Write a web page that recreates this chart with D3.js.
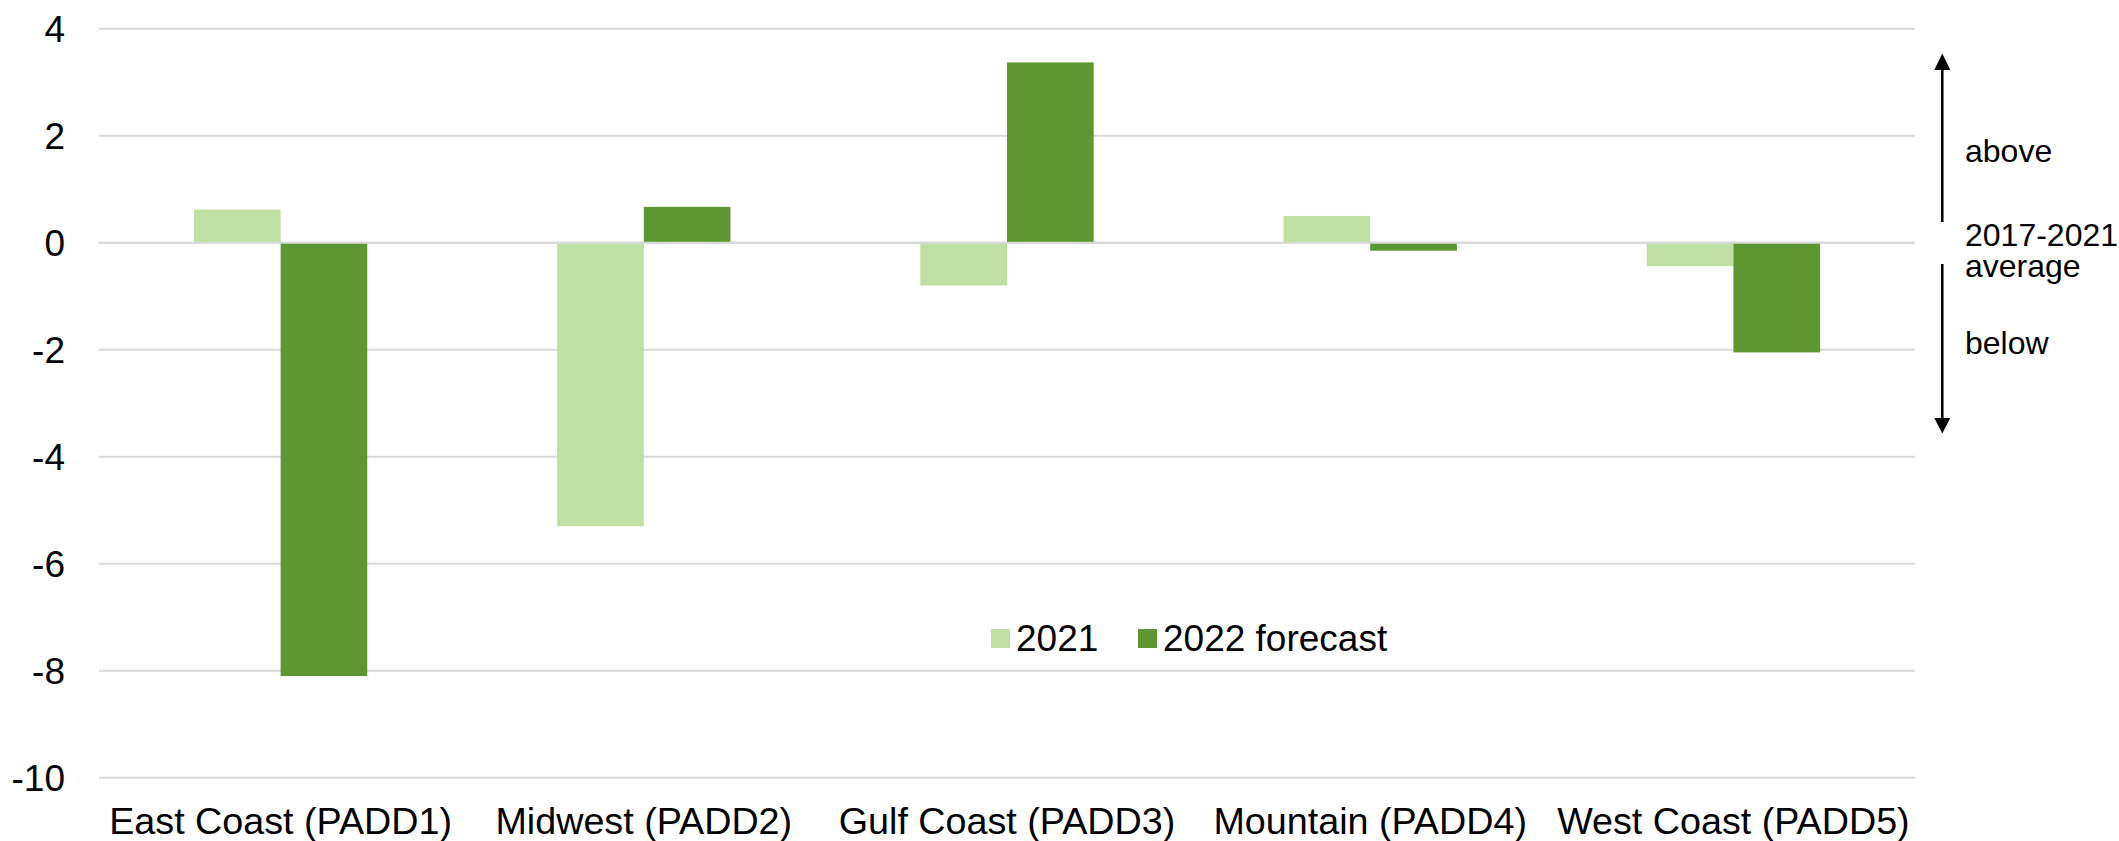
<!DOCTYPE html>
<html>
<head>
<meta charset="utf-8">
<script src="https://cdn.jsdelivr.net/npm/d3@7"></script>
<style>
  html, body { margin: 0; padding: 0; background: #fff; }
  svg { display: block; font-family: "Liberation Sans", Arial, sans-serif; }
</style>
</head>
<body>
<svg id="chart" width="2119" height="841"></svg>
<script>
// Regional differences from the 2017-2021 average
const categories = ["East Coast (PADD1)", "Midwest (PADD2)", "Gulf Coast (PADD3)", "Mountain (PADD4)", "West Coast (PADD5)"];
const seriesNames = ["2021", "2022 forecast"];
const values2021 = [0.62, -5.3, -0.8, 0.5, -0.44];
const values2022 = [-8.1, 0.67, 3.37, -0.15, -2.05];
const yTicks = [4, 2, 0, -2, -4, -6, -8, -10];
const colors = ["#bfe0a2", "#5e9732"];

const svg = d3.select("#chart");
const plotLeft = 99, plotRight = 1915, plotTop = 28.7, plotBottom = 777.7;

const y = d3.scaleLinear().domain([-10, 4]).range([plotBottom, plotTop]);
const x0 = d3.scaleBand().domain(categories).range([plotLeft, plotRight]).padding(0);
const barW = x0.step() / 4.19;
const x1 = d3.scaleBand().domain(seriesNames).range([0, 2 * barW]).padding(0);

const rows = categories.map((c, i) => ({ cat: c, vals: [values2021[i], values2022[i]] }));

// gridlines
const grid = svg.append("g");
grid.selectAll("line").data(yTicks).join("line")
  .attr("x1", plotLeft).attr("x2", plotRight)
  .attr("y1", d => y(d)).attr("y2", d => y(d))
  .attr("stroke", "#d9d9d9").attr("stroke-width", 2);

// y tick labels
svg.append("g").selectAll("text").data(yTicks).join("text")
  .attr("x", 65).attr("y", d => y(d)).attr("dy", "0.35em")
  .attr("text-anchor", "end").attr("font-size", 37).attr("fill", "#000")
  .text(d => d);

// bars
const groups = svg.append("g").selectAll("g").data(rows).join("g")
  .attr("transform", d => `translate(${x0(d.cat) + x0.bandwidth() / 2 - barW},0)`);
groups.selectAll("rect").data(d => d.vals.map((v, i) => ({ v, s: seriesNames[i], i }))).join("rect")
  .attr("x", d => x1(d.s)).attr("width", x1.bandwidth())
  .attr("y", d => y(Math.max(0, d.v)))
  .attr("height", d => Math.abs(y(d.v) - y(0)))
  .attr("fill", d => colors[d.i]);

// zero line over the bars
svg.append("line")
  .attr("x1", plotLeft).attr("x2", plotRight).attr("y1", y(0)).attr("y2", y(0))
  .attr("stroke", "#d9d9d9").attr("stroke-width", 2);

// category labels
svg.append("g").selectAll("text").data(categories).join("text")
  .attr("x", d => x0(d) + x0.bandwidth() / 2).attr("y", 834)
  .attr("text-anchor", "middle").attr("font-size", 37.7).attr("fill", "#000")
  .text(d => d);

// legend
const legend = svg.append("g");
const legendItems = [{ name: seriesNames[0], x: 991 }, { name: seriesNames[1], x: 1138 }];
legendItems.forEach((d, i) => {
  legend.append("rect").attr("x", d.x).attr("y", 629).attr("width", 19).attr("height", 19).attr("fill", colors[i]);
  legend.append("text").attr("x", d.x + 25).attr("y", 651)
    .attr("font-size", 37).attr("fill", "#000").text(d.name);
});

// above / below annotation with arrows
const ann = svg.append("g");
const ax = 1942.3;
ann.append("line").attr("x1", ax).attr("x2", ax).attr("y1", 68).attr("y2", 222)
  .attr("stroke", "#000").attr("stroke-width", 2.5);
ann.append("path").attr("d", `M${ax},53.5 L${ax - 8},70 L${ax + 8},70 Z`).attr("fill", "#000");
ann.append("line").attr("x1", ax).attr("x2", ax).attr("y1", 264).attr("y2", 420)
  .attr("stroke", "#000").attr("stroke-width", 2.5);
ann.append("path").attr("d", `M${ax},433.5 L${ax - 8},418 L${ax + 8},418 Z`).attr("fill", "#000");

const annText = [["above", 162], ["2017-2021", 246], ["average", 276.5], ["below", 353.5]];
ann.selectAll("text").data(annText).join("text")
  .attr("x", 1965).attr("y", d => d[1])
  .attr("font-size", 32).attr("fill", "#000")
  .text(d => d[0]);
</script>
</body>
</html>
